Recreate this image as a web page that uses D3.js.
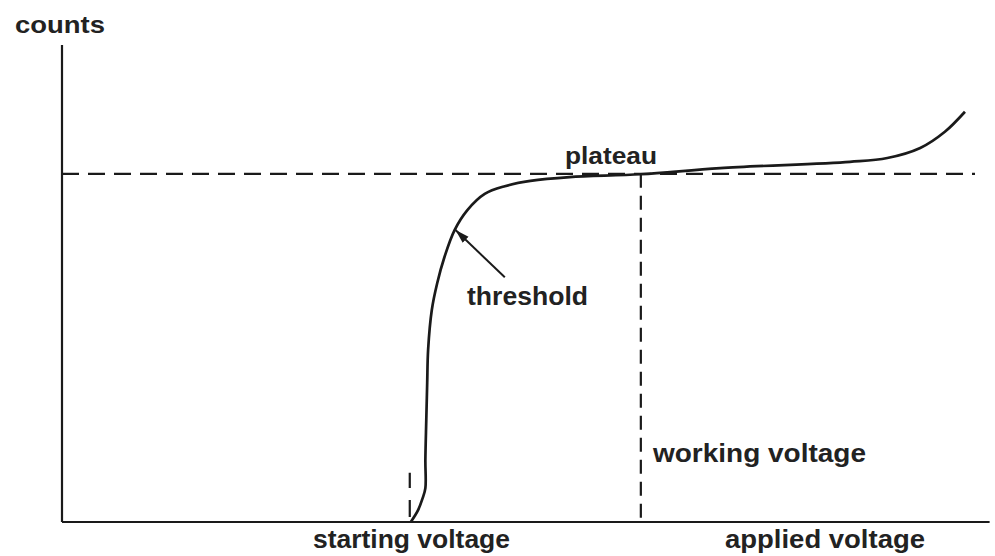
<!DOCTYPE html>
<html><head><meta charset="utf-8">
<script src="https://cdn.jsdelivr.net/npm/d3@7"></script>
<style>html,body{margin:0;padding:0;background:#fff;}svg{display:block;}</style>
</head><body><svg id="c" width="995" height="556"></svg>
<script>
// Data (arbitrary units: voltage 0-100, counts 0-100)
const curveX = [38.2, 39.0, 39.5, 39.8, 39.8, 39.9, 40.0, 40.1, 40.5, 41.1, 41.9, 43.0, 44.4, 46.3, 48.5, 51.3, 55.6, 63.4, 72.1, 86.3, 90.4, 94.0, 96.7, 98.9];
const curveY = [0, 2.5, 5.0, 7.1, 13.0, 21.4, 29.2, 36.1, 44.4, 50.1, 55.6, 61.2, 65.4, 68.8, 70.4, 71.5, 72.3, 72.9, 74.2, 75.5, 76.3, 78.4, 81.8, 86.0];
const plateauLevel = 73.0;
const workingVoltage = 63.4;
const startingVoltage = 38.2;
const startTickTop = 10.3;
const thresholdPoint = [43.1, 61.2];
const thresholdArrowFrom = [48.5, 51.3];
const xAxisMax = 101.6;
const plateauEnd = 100;
const labels = {counts: "counts", plateau: "plateau", threshold: "threshold", working: "working voltage", starting: "starting voltage", applied: "applied voltage"};

const svg = d3.select("#c");
const x = d3.scaleLinear().domain([0, 100]).range([62, 975]);
const y = d3.scaleLinear().domain([0, 100]).range([522, 45]);
const ink = "#1a1a1a";

svg.append("defs").append("marker").attr("id","ah").attr("viewBox","0 0 10 10")
  .attr("refX",10).attr("refY",5).attr("markerWidth",7).attr("markerHeight",7)
  .attr("markerUnits","strokeWidth").attr("orient","auto")
  .append("path").attr("d","M0,2L10,5L0,8Z").attr("fill",ink);

// axes
svg.append("line").attr("x1",x(0)).attr("x2",x(0)).attr("y1",y(0)).attr("y2",y(100))
  .attr("stroke",ink).attr("stroke-width",2.2);
svg.append("line").attr("x1",x(0)).attr("x2",x(xAxisMax)).attr("y1",y(0)).attr("y2",y(0))
  .attr("stroke",ink).attr("stroke-width",2.2);

// dashed guides
svg.append("line").attr("x1",x(0)).attr("x2",x(plateauEnd)).attr("y1",y(plateauLevel)).attr("y2",y(plateauLevel))
  .attr("stroke",ink).attr("stroke-width",2.3).attr("stroke-dasharray","17,9");
svg.append("line").attr("x1",x(workingVoltage)).attr("x2",x(workingVoltage)).attr("y1",y(plateauLevel)).attr("y2",y(0))
  .attr("stroke",ink).attr("stroke-width",2.2).attr("stroke-dasharray","14,8");
svg.append("line").attr("x1",x(startingVoltage)-1).attr("x2",x(startingVoltage)-1).attr("y1",y(0)-5).attr("y2",y(startTickTop))
  .attr("stroke",ink).attr("stroke-width",2.2).attr("stroke-dasharray","17,12");

// curve
const pts = curveX.map((v,i)=>[v, curveY[i]]);
svg.append("path").datum(pts)
  .attr("d", d3.line().x(d=>x(d[0])).y(d=>y(d[1])).curve(d3.curveCatmullRom.alpha(0.5)))
  .attr("fill","none").attr("stroke",ink).attr("stroke-width",2.7);

// threshold arrow
svg.append("line").attr("x1",x(thresholdArrowFrom[0])).attr("y1",y(thresholdArrowFrom[1]))
  .attr("x2",x(thresholdPoint[0])).attr("y2",y(thresholdPoint[1]))
  .attr("stroke",ink).attr("stroke-width",2).attr("marker-end","url(#ah)");

// text
function txt(s, x0, x1, base, size){
  svg.append("text").attr("x",x0).attr("y",base).text(s)
    .attr("font-family","'Liberation Sans', Arial, sans-serif").attr("font-weight","bold")
    .attr("font-size",size).attr("fill","#222")
    .attr("textLength",x1-x0).attr("lengthAdjust","spacingAndGlyphs");
}
txt(labels.counts, 15, 105, 33, 24);
txt(labels.plateau, 565, 657, 164, 24);
txt(labels.threshold, 467, 588, 305, 25);
txt(labels.working, 653, 866, 462, 25);
txt(labels.starting, 313, 510, 548, 25);
txt(labels.applied, 725, 925, 548, 25);
</script></body></html>
